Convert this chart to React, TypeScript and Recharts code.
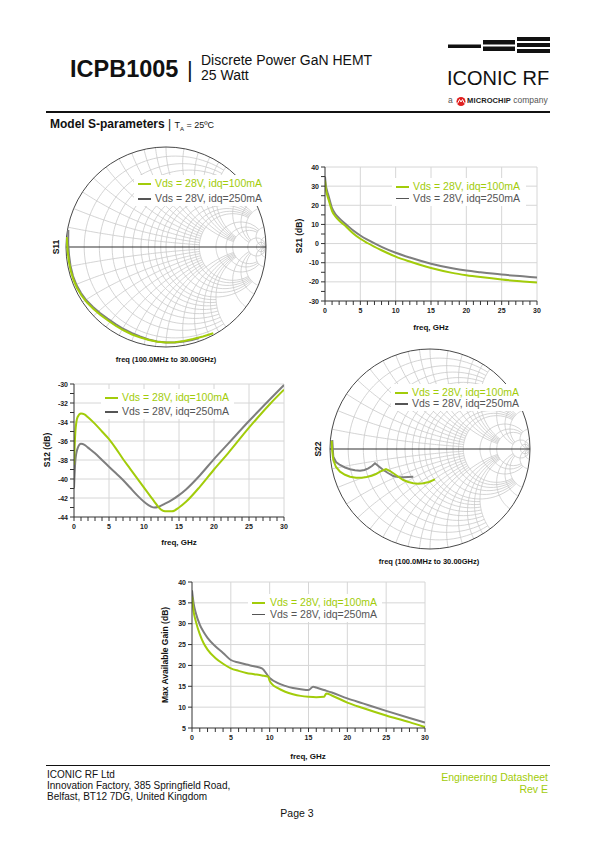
import React from 'react';
import { LineChart, Line, XAxis, YAxis, ReferenceLine } from 'recharts';

const FONT = 'Arial, "Liberation Sans", Helvetica, sans-serif';
const GREEN = '#a2cc0a';
const GRAY = '#7e7e7e';
const DARK = '#555555';

const legendLabels = ['Vds = 28V, idq=100mA', 'Vds = 28V, idq=250mA'];

// S11 (reflection coefficient, re / im), 100MHz to 30GHz
const s11Re100 = [-0.993, -0.985, -0.972, -0.952, -0.925, -0.89, -0.845, -0.79, -0.725, -0.655, -0.58, -0.5, -0.42, -0.34, -0.255, -0.17, -0.085, 0.0, 0.09, 0.18, 0.27, 0.37, 0.473];
const s11Im100 = [0.1, -0.03, -0.14, -0.24, -0.33, -0.41, -0.485, -0.555, -0.62, -0.68, -0.735, -0.79, -0.835, -0.875, -0.905, -0.93, -0.947, -0.955, -0.952, -0.94, -0.92, -0.895, -0.862];
const s11Re250 = [-0.977, -0.978, -0.97, -0.955, -0.93, -0.895, -0.85, -0.795, -0.73, -0.66, -0.585, -0.505, -0.425, -0.345, -0.26, -0.175, -0.09, 0.0, 0.09, 0.18, 0.26, 0.33];
const s11Im250 = [0.17, 0.04, -0.08, -0.19, -0.29, -0.38, -0.46, -0.535, -0.6, -0.66, -0.715, -0.77, -0.82, -0.86, -0.895, -0.925, -0.945, -0.955, -0.955, -0.945, -0.93, -0.91];

// S22
const s22Re100 = [-0.983, -0.978, -0.967, -0.94, -0.9, -0.85, -0.8, -0.74, -0.683, -0.633, -0.583, -0.54, -0.5, -0.44, -0.4, -0.367, -0.32, -0.267, -0.217, -0.167, -0.117, -0.067, -0.01, 0.05];
const s22Im100 = [0.083, -0.02, -0.11, -0.18, -0.227, -0.258, -0.277, -0.287, -0.287, -0.28, -0.267, -0.25, -0.227, -0.2, -0.22, -0.243, -0.275, -0.31, -0.33, -0.343, -0.347, -0.343, -0.33, -0.303];
const s22Re250 = [-0.977, -0.972, -0.967, -0.94, -0.9, -0.85, -0.8, -0.75, -0.7, -0.655, -0.617, -0.58, -0.55, -0.51, -0.467, -0.42, -0.367, -0.317, -0.267, -0.22, -0.167];
const s22Im250 = [0.09, 0.0, -0.077, -0.13, -0.16, -0.185, -0.203, -0.213, -0.217, -0.21, -0.193, -0.17, -0.143, -0.175, -0.21, -0.24, -0.27, -0.28, -0.283, -0.28, -0.277];

// S21 (dB)
const s21Freq = [0, 0.1, 0.3, 0.5, 1, 1.5, 2, 3, 4, 5, 6, 8, 10, 12, 15, 18, 20, 22, 25, 28, 30];
const s21Idq100 = [33, 29, 25.5, 23, 17, 14, 12, 8.8, 5.3, 2.5, 0.3, -3.5, -6.8, -9.4, -12.8, -15.3, -16.5, -17.5, -18.8, -19.8, -20.4];
const s21Idq250 = [35, 31, 27.5, 25, 18.5, 15.3, 13.3, 10, 6.8, 4.2, 2, -1.7, -4.8, -7.3, -10.5, -12.9, -14.1, -15, -16.2, -17.1, -17.7];

// S12 (dB)
const s12Freq = [0, 0.2, 0.5, 1, 1.5, 2, 3, 4, 5, 6, 7, 8, 9, 10, 11, 11.5, 12, 13, 14, 15, 16, 18, 20, 22, 25, 28, 30];
const s12Idq100 = [-38.5, -35, -33.5, -33.1, -33.2, -33.5, -34.2, -35, -35.8, -36.8, -37.9, -38.9, -39.9, -40.9, -41.9, -42.4, -42.9, -43.4, -43.4, -43.0, -42.4, -40.8, -39.0, -37.3, -34.6, -32.1, -30.6];
const s12Idq250 = [-41, -38, -36.8, -36.3, -36.4, -36.7, -37.3, -38, -38.7, -39.4, -40.1, -40.9, -41.7, -42.4, -42.9, -43.0, -42.95, -42.6, -42.2, -41.7, -41.1, -39.6, -37.9, -36.3, -33.9, -31.6, -30.1];

// Max Available Gain (dB)
const magFreq100 = [0, 0.2, 0.5, 1, 1.5, 2, 3, 4, 5, 6, 7, 8, 9, 9.8, 10, 10.3, 11, 12, 13, 14, 15, 16, 17, 17.3, 18, 20, 22, 25, 28, 30];
const magIdq100 = [36.5, 33, 30.5, 27.5, 25.3, 23.8, 21.8, 20.4, 19.3, 18.7, 18.2, 17.9, 17.6, 17.3, 16.3, 15.5, 14.6, 13.7, 13.1, 12.7, 12.5, 12.4, 12.5, 13.3, 12.8, 11.1, 9.8, 8.0, 6.4, 5.2];
const magFreq250 = [0, 0.2, 0.5, 1, 1.5, 2, 3, 4, 5, 6, 7, 8, 9, 10, 11, 12, 13, 14, 15, 15.6, 16, 17, 18, 20, 22, 25, 28, 30];
const magIdq250 = [38, 35, 32.5, 29.8, 28, 26.6, 24.6, 23, 21.3, 20.7, 20.2, 19.8, 19.3, 17.0, 15.8, 15.1, 14.6, 14.3, 14.1, 14.9, 14.7, 14.1, 13.5, 12.1, 10.9, 9.1, 7.4, 6.3];

const rows = (xs: number[], ys: number[]) => xs.map((x, i) => ({ x, y: ys[i] }));
const range = (a: number, b: number, step: number) => {
  const out: number[] = [];
  for (let v = a; v <= b + 1e-9; v += step) out.push(Math.round(v * 100) / 100);
  return out;
};

const makeTick = (axis: 'x' | 'y', labelled: number[]) => (props: any) => {
  const { x, y, payload } = props;
  const v = payload.value;
  if (!labelled.some((l) => Math.abs(l - v) < 1e-6)) return <g />;
  if (axis === 'x') {
    return (
      <text x={x} y={y} dy={5.5} textAnchor="middle" fontSize={7} fontWeight="bold" fill="#222" fontFamily={FONT}>
        {v}
      </text>
    );
  }
  return (
    <text x={x} y={y} dy={2.5} textAnchor="end" fontSize={7} fontWeight="bold" fill="#222" fontFamily={FONT}>
      {v}
    </text>
  );
};

type LegendProps = { left: number; top: number; width: number; gap: number; lineX: number; textX: number };

function Legend({ left, top, width, gap, lineX, textX }: LegendProps) {
  const colors = [GREEN, DARK];
  return (
    <div style={{ position: 'absolute', left, top, width, height: gap + 16, background: '#fff' }}>
      {legendLabels.map((label, i) => (
        <div key={label}>
          <div style={{ position: 'absolute', left: lineX, top: 8 + i * gap, width: 13, height: 1.5, background: colors[i] }} />
          <div
            style={{
              position: 'absolute',
              left: textX,
              top: 8 + i * gap - 7,
              fontSize: 10.5,
              lineHeight: '14px',
              color: colors[i],
              whiteSpace: 'nowrap',
            }}
          >
            {label}
          </div>
        </div>
      ))}
    </div>
  );
}

function AxisTitle({ x, y, text, rotate, size = 8 }: { x: number; y: number; text: string; rotate?: boolean; size?: number }) {
  return (
    <div
      style={{
        position: 'absolute',
        left: x,
        top: y,
        transform: `translate(-50%, -50%)${rotate ? ' rotate(-90deg)' : ''}`,
        fontSize: size,
        fontWeight: 'bold',
        whiteSpace: 'nowrap',
        color: '#111',
      }}
    >
      {text}
    </div>
  );
}

type LineProps = {
  left: number;
  top: number;
  width: number;
  height: number;
  margin: { top: number; right: number; bottom: number; left: number };
  yWidth: number;
  xTicks: number[];
  xLabels: number[];
  yTicks: number[];
  yLabels: number[];
  series: { data: { x: number; y: number }[]; color: string }[];
};

function RfLineChart({ left, top, width, height, margin, yWidth, xTicks, xLabels, yTicks, yLabels, series }: LineProps) {
  const xMin = xLabels[0];
  const xMax = xLabels[xLabels.length - 1];
  const yMin = yLabels[0];
  const yMax = yLabels[yLabels.length - 1];
  return (
    <div style={{ position: 'absolute', left, top }}>
      <LineChart width={width} height={height} margin={margin}>
        <XAxis
          type="number"
          dataKey="x"
          domain={[xMin, xMax]}
          ticks={xTicks}
          interval={0}
          tick={makeTick('x', xLabels)}
          tickSize={4}
          tickMargin={2}
          height={20}
          stroke="#333"
          allowDataOverflow
        />
        <YAxis
          type="number"
          dataKey="y"
          domain={[yMin, yMax]}
          ticks={yTicks}
          interval={0}
          tick={makeTick('y', yLabels)}
          tickSize={4}
          tickMargin={2}
          width={yWidth}
          stroke="#333"
          allowDataOverflow
        />
        {xLabels.slice(1).map((v) => (
          <ReferenceLine key={`vx${v}`} x={v} stroke="#d6d6d6" strokeWidth={1} />
        ))}
        {yLabels.slice(1).map((v) => (
          <ReferenceLine key={`hy${v}`} y={v} stroke="#d6d6d6" strokeWidth={1} />
        ))}
        {series.map((s, i) => (
          <Line
            key={i}
            data={s.data}
            dataKey="y"
            type="monotone"
            stroke={s.color}
            strokeWidth={2}
            dot={false}
            isAnimationActive={false}
          />
        ))}
      </LineChart>
    </div>
  );
}

// Smith chart grid (chart furniture, not data)
const S = 100; // radius in px
const C = 106; // centre offset in px inside the box
const gamma = (r: number, x: number) => {
  const d = (r + 1) * (r + 1) + x * x;
  return [(r * r - 1 + x * x) / d, (2 * x) / d];
};
const toPx = ([re, im]: number[]) => `${(C + S * re).toFixed(2)},${(C - S * im).toFixed(2)}`;

const smithPaths = (() => {
  const paths: string[] = [];
  const rSets: [number[], number][] = [
    [[0.1, 0.2, 0.3, 0.4, 0.5, 0.6, 0.7, 0.8, 0.9], 2],
    [[1.0], 5],
    [[1.2, 1.4, 1.6, 1.8, 2.0], 5],
    [[3, 4, 5], 10],
    [[10, 20], 1e4],
  ];
  rSets.forEach(([rs, xmax]) =>
    rs.forEach((r) => {
      const a = Math.atan(xmax);
      const pts: string[] = [];
      for (let k = 0; k <= 90; k++) pts.push(toPx(gamma(r, Math.tan(-a + (2 * a * k) / 90))));
      paths.push('M' + pts.join('L'));
    })
  );
  const xSets: [number[], number][] = [
    [[0.1, 0.2, 0.3, 0.4, 0.5, 0.6, 0.7, 0.8, 0.9], 2],
    [[1.0, 1.2, 1.4, 1.6, 1.8, 2.0], 5],
    [[3, 4, 5], 10],
    [[10, 20], 1e4],
  ];
  xSets.forEach(([xs, rmax]) =>
    xs.forEach((xv) =>
      [xv, -xv].forEach((x) => {
        const a = Math.atan(rmax);
        const pts: string[] = [];
        for (let k = 0; k <= 60; k++) pts.push(toPx(gamma(Math.tan((a * k) / 60), x)));
        paths.push('M' + pts.join('L'));
      })
    )
  );
  return paths;
})();

type SmithProps = {
  cx: number;
  cy: number;
  series: { data: { x: number; y: number }[]; color: string }[];
  id: string;
};

function SmithChart({ cx, cy, series, id }: SmithProps) {
  return (
    <div style={{ position: 'absolute', left: cx - C, top: cy - C, width: 2 * C, height: 2 * C }}>
      <svg width={2 * C} height={2 * C} style={{ position: 'absolute', left: 0, top: 0 }}>
        <defs>
          <clipPath id={id}>
            <circle cx={C} cy={C} r={S} />
          </clipPath>
        </defs>
        <g clipPath={`url(#${id})`} fill="none" stroke="#c9c9c9" strokeWidth={0.8}>
          {smithPaths.map((d, i) => (
            <path key={i} d={d} />
          ))}
        </g>
        <line x1={C - S} y1={C} x2={C + S} y2={C} stroke="#333" strokeWidth={1.2} />
        <circle cx={C} cy={C} r={S} fill="none" stroke="#333" strokeWidth={0.9} />
      </svg>
      <div style={{ position: 'absolute', left: 0, top: 0 }}>
        <LineChart width={2 * C} height={2 * C} margin={{ top: C - S, right: C - S, bottom: C - S, left: C - S }}>
          <XAxis type="number" dataKey="x" domain={[-1, 1]} hide allowDataOverflow />
          <YAxis type="number" dataKey="y" domain={[-1, 1]} hide allowDataOverflow />
          {series.map((s, i) => (
            <Line
              key={i}
              data={s.data}
              dataKey="y"
              type="linear"
              stroke={s.color}
              strokeWidth={2}
              dot={false}
              isAnimationActive={false}
            />
          ))}
        </LineChart>
      </div>
    </div>
  );
}

function Header() {
  return (
    <>
      <div style={{ position: 'absolute', left: 70, top: 55, fontSize: 23.5, fontWeight: 'bold', lineHeight: '28px' }}>ICPB1005</div>
      <div style={{ position: 'absolute', left: 187, top: 57, fontSize: 22, lineHeight: '26px' }}>|</div>
      <div style={{ position: 'absolute', left: 201, top: 53, fontSize: 14, lineHeight: '15px' }}>
        Discrete Power GaN HEMT
        <br />
        25 Watt
      </div>
      <svg width={104} height={20} style={{ position: 'absolute', left: 448, top: 37 }}>
        <rect x={0} y={7.5} width={33} height={3.5} fill="#111" />
        <rect x={35} y={3} width={32} height={4.5} fill="#111" />
        <rect x={35} y={9.5} width={32} height={4.5} fill="#111" />
        <rect x={69} y={0} width={33} height={4} fill="#111" />
        <rect x={69} y={6} width={33} height={4} fill="#111" />
        <rect x={69} y={12} width={33} height={4} fill="#111" />
      </svg>
      <div style={{ position: 'absolute', left: 447, top: 66, fontSize: 20, lineHeight: '24px', letterSpacing: 0 }}>ICONIC RF</div>
      <div style={{ position: 'absolute', left: 448, top: 95, fontSize: 8.5, lineHeight: '10px', color: '#555', whiteSpace: 'nowrap' }}>
        a{' '}
        <svg width={12} height={10} style={{ verticalAlign: 'middle' }}>
          <circle cx={6} cy={5.5} r={4.5} fill="#e02020" />
          <path d="M2.5 7.5 L4.5 3.5 L6 6 L7.5 3.5 L9.5 7.5" stroke="#fff" strokeWidth={1} fill="none" />
        </svg>
        <span style={{ fontWeight: 'bold', color: '#222', fontSize: 7.5, letterSpacing: 0.1 }}>MICROCHIP</span> company
      </div>
      <div style={{ position: 'absolute', left: 46, top: 111, width: 504, height: 1.6, background: '#111' }} />
      <div style={{ position: 'absolute', left: 50, top: 117, fontSize: 12, lineHeight: '14px', whiteSpace: 'nowrap' }}>
        <b>Model S-parameters</b> | <span style={{ fontSize: 9 }}>T<sub style={{ fontSize: 6 }}>A</sub> = 25ºC</span>
      </div>
    </>
  );
}

function Footer() {
  return (
    <>
      <div style={{ position: 'absolute', left: 46, top: 765, width: 504, height: 1.3, background: '#111' }} />
      <div style={{ position: 'absolute', left: 47, top: 769, fontSize: 10, lineHeight: '11px' }}>
        ICONIC RF Ltd
        <br />
        Innovation Factory, 385 Springfield Road,
        <br />
        Belfast, BT12 7DG, United Kingdom
      </div>
      <div style={{ position: 'absolute', right: 595 - 548, top: 771, fontSize: 10.5, lineHeight: '12px', color: GREEN, textAlign: 'right' }}>
        Engineering Datasheet
        <br />
        Rev E
      </div>
      <div style={{ position: 'absolute', left: 297, top: 807, transform: 'translateX(-50%)', fontSize: 10.5, lineHeight: '12px' }}>Page 3</div>
    </>
  );
}

export default function App() {
  const freqTicks = range(0, 30, 1);
  const freqLabels = range(0, 30, 5);
  return (
    <div style={{ position: 'absolute', left: 0, top: 0, width: 595, height: 842, background: '#fff', fontFamily: FONT, color: '#111', overflow: 'hidden' }}>
      <Header />

      {/* S11 */}
      <SmithChart
        id="s11clip"
        cx={166}
        cy={247}
        series={[
          { data: rows(s11Re250, s11Im250), color: GRAY },
          { data: rows(s11Re100, s11Im100), color: GREEN },
        ]}
      />
      <Legend left={134} top={175} width={133} gap={15} lineX={4} textX={21} />
      <AxisTitle x={56} y={247} text="S11" rotate size={8.5} />
      <AxisTitle x={166} y={359} text="freq (100.0MHz to 30.00GHz)" size={7.5} />

      {/* S21 */}
      <RfLineChart
        left={290}
        top={155}
        width={260}
        height={190}
        margin={{ top: 12, right: 13, bottom: 24, left: 10 }}
        yWidth={25}
        xTicks={freqTicks}
        xLabels={freqLabels}
        yTicks={range(-30, 40, 5)}
        yLabels={range(-30, 40, 10)}
        series={[
          { data: rows(s21Freq, s21Idq250), color: GRAY },
          { data: rows(s21Freq, s21Idq100), color: GREEN },
        ]}
      />
      <Legend left={392} top={178} width={134} gap={11.7} lineX={4} textX={21} />
      <AxisTitle x={299} y={236} text="S21 (dB)" rotate size={8.5} />
      <AxisTitle x={431} y={327} text="freq, GHz" />

      {/* S12 */}
      <RfLineChart
        left={40}
        top={372}
        width={260}
        height={180}
        margin={{ top: 12, right: 16, bottom: 15, left: 10 }}
        yWidth={24}
        xTicks={freqTicks}
        xLabels={freqLabels}
        yTicks={range(-44, -30, 1)}
        yLabels={range(-44, -30, 2)}
        series={[
          { data: rows(s12Freq, s12Idq250), color: GRAY },
          { data: rows(s12Freq, s12Idq100), color: GREEN },
        ]}
      />
      <Legend left={101} top={389} width={133} gap={14} lineX={4} textX={21} />
      <AxisTitle x={47} y={450} text="S12 (dB)" rotate size={8.5} />
      <AxisTitle x={179} y={542} text="freq, GHz" />

      {/* S22 */}
      <SmithChart
        id="s22clip"
        cx={430}
        cy={449}
        series={[
          { data: rows(s22Re250, s22Im250), color: GRAY },
          { data: rows(s22Re100, s22Im100), color: GREEN },
        ]}
      />
      <Legend left={391} top={384} width={134} gap={11.3} lineX={4} textX={21} />
      <AxisTitle x={318} y={449} text="S22" rotate size={8.5} />
      <AxisTitle x={429} y={561} text="freq (100.0MHz to 30.00GHz)" size={7.5} />

      {/* Max Available Gain */}
      <RfLineChart
        left={150}
        top={570}
        width={290}
        height={190}
        margin={{ top: 12, right: 15, bottom: 12, left: 18 }}
        yWidth={24}
        xTicks={freqTicks}
        xLabels={freqLabels}
        yTicks={range(5, 40, 5)}
        yLabels={range(5, 40, 5)}
        series={[
          { data: rows(magFreq250, magIdq250), color: GRAY },
          { data: rows(magFreq100, magIdq100), color: GREEN },
        ]}
      />
      <Legend left={248} top={594} width={134} gap={11.6} lineX={4} textX={22} />
      <AxisTitle x={165} y={655} text="Max Available Gain (dB)" rotate size={8.5} />
      <AxisTitle x={308} y={756} text="freq, GHz" />

      <Footer />
    </div>
  );
}
